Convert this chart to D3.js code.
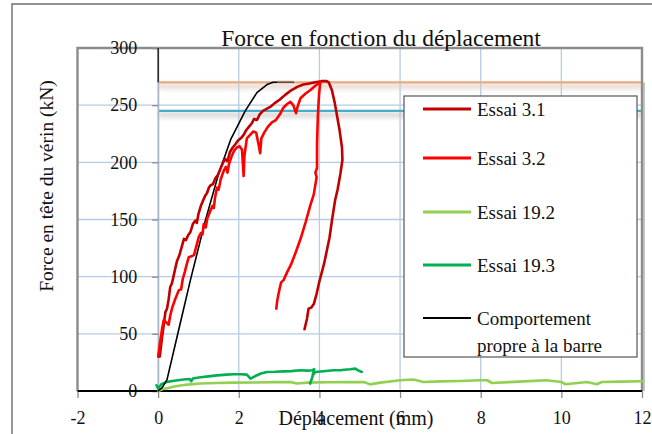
<!DOCTYPE html>
<html><head><meta charset="utf-8">
<script src="https://cdn.jsdelivr.net/npm/d3@7"></script>
<style>
html,body{margin:0;padding:0;background:#fff;}
svg text{font-family:"Liberation Serif","Times New Roman",serif;fill:#111;}
</style></head>
<body>
<svg id="c" width="652" height="434"></svg>
<script>
// ---- data ----
const xTicks = [-2, 0, 2, 4, 6, 8, 10, 12];
const yTicks = [0, 50, 100, 150, 200, 250, 300];
const legendLabels = ["Essai 3.1", "Essai 3.2", "Essai 19.2", "Essai 19.3", "Comportement|propre à la barre"];
const seriesColors = ["#c00000", "#ff0000", "#92d050", "#00b050", "#000000"];
const refForceMax = 270;   // orange reference line
const refForceYield = 245; // blue reference line

const essai31 = [[0.04,30],[0.09,45],[0.14,58],[0.18,69],[0.22,72],[0.26,80],[0.30,91],[0.34,94],[0.38,100],[0.43,108],[0.47,114],[0.52,118],[0.57,124],[0.64,133],[0.69,132],[0.74,136],[0.80,139],[0.86,146],[0.92,149],[0.96,147],[1.00,155],[1.06,162],[1.12,167],[1.17,171],[1.21,173],[1.26,178],[1.30,180],[1.36,181],[1.42,186],[1.48,189],[1.54,194],[1.60,199],[1.66,203],[1.72,201],[1.78,209],[1.85,213],[1.92,216],[1.98,219],[2.05,221],[2.12,224],[2.18,228],[2.25,231],[2.32,234],[2.38,238],[2.45,237],[2.52,242],[2.60,245],[2.70,247],[2.80,249],[2.90,252],[3.02,255],[3.15,259],[3.30,263],[3.45,266],[3.60,268],[3.75,269],[3.90,270],[4.05,271],[4.18,271],[4.23,270],[4.31,263],[4.38,252],[4.43,242],[4.50,228],[4.56,213],[4.57,202],[4.52,190],[4.45,176],[4.39,167],[4.31,149],[4.25,134],[4.19,124],[4.12,112],[4.06,104],[4.00,96],[3.93,85],[3.86,76],[3.80,73],[3.73,72],[3.69,63],[3.63,54]];
const essai32 = [[0.00,30],[0.05,43],[0.10,55],[0.14,62],[0.20,60],[0.26,58],[0.30,66],[0.35,73],[0.42,80],[0.51,88],[0.57,89],[0.61,98],[0.66,104],[0.71,111],[0.76,117],[0.84,118],[0.89,119],[0.95,127],[1.01,135],[1.06,138],[1.10,137],[1.13,146],[1.18,143],[1.22,151],[1.30,158],[1.35,162],[1.38,160],[1.41,169],[1.46,178],[1.50,176],[1.55,185],[1.63,193],[1.68,196],[1.72,191],[1.76,199],[1.82,205],[1.88,210],[1.95,213],[2.02,214],[2.08,211],[2.12,188],[2.14,206],[2.20,221],[2.28,224],[2.36,227],[2.43,226],[2.50,214],[2.53,208],[2.56,221],[2.63,226],[2.72,231],[2.82,235],[2.92,237],[3.02,242],[3.11,248],[3.20,251],[3.28,253],[3.35,250],[3.42,243],[3.46,249],[3.53,256],[3.65,260],[3.77,263],[3.90,267],[4.02,270],[3.99,259],[3.96,240],[3.94,215],[3.94,195],[3.90,191],[3.93,187],[3.86,172],[3.77,162],[3.66,148],[3.54,134],[3.42,122],[3.30,111],[3.20,104],[3.11,97],[3.05,95],[3.01,89],[2.98,84],[2.95,78],[2.93,72]];
const essai192 = [[0.00,0],[0.10,1.5],[0.22,2.5],[0.40,4],[0.63,5.2],[0.85,6],[1.05,6.5],[1.45,7],[1.87,7.3],[2.40,7.5],[2.90,7.8],[3.28,7.9],[3.44,6.5],[3.70,7.3],[4.20,7.6],[4.70,7.8],[5.10,7.9],[5.26,5.8],[5.51,7.3],[5.80,8.6],[6.00,9.4],[6.33,10],[6.58,7.9],[7.00,8.4],[7.50,8.8],[7.99,9.4],[8.16,9.4],[8.28,7.0],[8.70,7.8],[9.20,8.6],[9.64,9.4],[10.00,7.9],[10.10,5.9],[10.40,7.0],[10.63,7.9],[10.88,5.9],[11.00,7.9],[11.50,8.2],[12.00,8.5]];
const essai193 = [[-0.04,5],[0.00,2],[0.08,6],[0.22,8],[0.40,9],[0.63,10],[0.78,10.5],[0.82,8.5],[0.86,11],[1.05,12],[1.25,12.8],[1.46,13.7],[1.70,14.3],[1.87,14.6],[2.05,14.7],[2.20,14.3],[2.29,10.8],[2.41,13.1],[2.55,15.3],[2.70,16.6],[2.90,16.8],[3.11,17.2],[3.30,17.4],[3.53,18.1],[3.70,17.8],[3.82,18.1],[3.87,19],[3.82,12],[3.77,6.5],[3.84,14],[3.90,16.6],[4.10,17.3],[4.35,18.1],[4.55,18.3],[4.76,19],[4.89,19.6],[4.96,18],[5.05,16.6]];
const comportement = [[0,0],[0.10,3],[0.22,10],[0.50,52],[0.80,97],[1.17,149],[1.50,190],[1.80,220],[2.16,245],[2.45,261],[2.70,268],[2.85,270],[3.35,270]];
const allSeries = [essai31, essai32, essai192, essai193, comportement];
const seriesWidths = [2.6, 2.6, 2.6, 2.6, 1.6];

// ---- drawing ----
const svg = d3.select("#c");
const W = 652, H = 434;
const pLeft = 77.5, pRight = 642, pTop = 48, pBottom = 391;
const x = d3.scaleLinear().domain([-2, 12]).range([pLeft, pRight]);
const y = d3.scaleLinear().domain([0, 300]).range([pBottom, pTop]);
const fmt = d => String(d);

const defs = svg.append("defs");
const blur = defs.append("filter").attr("id","blur").attr("x","-5%").attr("y","-200%").attr("width","110%").attr("height","500%");
blur.append("feGaussianBlur").attr("stdDeviation","2.2");

// outer frame
svg.append("path").attr("d", `M12,${H} L12,4 L${W},4`).attr("fill","none").attr("stroke","#6e6e6e").attr("stroke-width",1.4);

// gridlines
const grid = svg.append("g");
grid.selectAll(".hg").data(yTicks.filter(d => d > 0 && d < 300)).join("line")
  .attr("x1", pLeft).attr("x2", pRight).attr("y1", d => y(d)).attr("y2", d => y(d))
  .attr("stroke", "#b8cbe6").attr("stroke-width", 1.3);
grid.selectAll(".vg").data(xTicks.filter(d => d > -2 && d < 12)).join("line")
  .attr("x1", d => x(d)).attr("x2", d => x(d)).attr("y1", pTop).attr("y2", pBottom)
  .attr("stroke", d => d === 0 ? "#a9b4c4" : "#b8cbe6").attr("stroke-width", 1.3);

// reference lines with soft shadows
const refs = svg.append("g");
[[refForceMax, "#e6ac7e", "#d9c2b8"], [refForceYield, "#4bacc6", "#bfbfbf"]].forEach(([v, col, sh]) => {
  refs.append("rect").attr("x", x(0)).attr("width", pRight - x(0)).attr("y", y(v) + 1).attr("height", 6)
    .attr("fill", sh).attr("opacity", 0.55).attr("filter", "url(#blur)");
  refs.append("line").attr("x1", x(0)).attr("x2", pRight).attr("y1", y(v)).attr("y2", y(v))
    .attr("stroke", col).attr("stroke-width", 2.2);
});

// plot border (left, top, right)
svg.append("path").attr("d", `M${pLeft},${pBottom} L${pLeft},${pTop} L${pRight},${pTop} L${pRight},${pBottom}`)
  .attr("fill","none").attr("stroke","#8c8c8c").attr("stroke-width",2.4);
svg.append("line").attr("x1", pRight + 2).attr("x2", pRight + 2).attr("y1", y(refForceMax)).attr("y2", pBottom)
  .attr("stroke","#b0b0b0").attr("stroke-width",1.5);

// y axis at x = 0
const yAxis = svg.append("g").attr("transform", `translate(${x(0)},0)`)
  .call(d3.axisLeft(y).tickValues(yTicks).tickSize(6).tickPadding(15).tickFormat(fmt));
yAxis.select(".domain").attr("stroke","#a9b4c4").attr("stroke-width",1.3);
yAxis.selectAll(".tick line").attr("stroke","#8c8c8c").attr("stroke-width",1.3);
yAxis.selectAll(".tick text").attr("font-size", 18).attr("font-family", "Liberation Serif").attr("fill","#111");
svg.append("line").attr("x1", x(0)).attr("x2", x(0)).attr("y1", y(300)).attr("y2", y(refForceMax))
  .attr("stroke","#000").attr("stroke-width",1.2);

// x axis at y = 0
const xAxis = svg.append("g").attr("transform", `translate(0,${y(0)})`)
  .call(d3.axisBottom(x).tickValues(xTicks).tickSize(7).tickPadding(13).tickFormat(fmt));
xAxis.select(".domain").remove();
xAxis.selectAll(".tick line").attr("stroke","#8c8c8c").attr("stroke-width",1.3);
xAxis.selectAll(".tick text").attr("font-size", 18).attr("font-family", "Liberation Serif").attr("fill","#111");
svg.append("line").attr("x1", pLeft).attr("x2", pRight).attr("y1", y(0)).attr("y2", y(0))
  .attr("stroke","#000").attr("stroke-width",2);

// series
const line = d3.line().x(d => x(d[0])).y(d => y(d[1])).curve(d3.curveLinear);
const order = [2, 3, 4, 0, 1];
const sg = svg.append("g");
order.forEach(i => {
  sg.append("path").datum(allSeries[i]).attr("d", line).attr("fill","none")
    .attr("stroke", seriesColors[i]).attr("stroke-width", seriesWidths[i])
    .attr("stroke-linejoin","round").attr("stroke-linecap","round");
});
// brownish flat top of the bar behaviour
sg.append("line").attr("x1", x(2.95)).attr("x2", x(3.35)).attr("y1", y(270.5)).attr("y2", y(270.5))
  .attr("stroke","#a0806a").attr("stroke-width",1.8);

// title & axis labels
svg.append("text").attr("x", 381).attr("y", 46).attr("text-anchor","middle").attr("font-size", 23.5)
  .text("Force en fonction du déplacement");
svg.append("text").attr("transform", "translate(53,186) rotate(-90)").attr("text-anchor","middle")
  .attr("font-size", 19.5).text("Force en tête du vérin (kN)");
svg.append("text").attr("x", 356).attr("y", 425).attr("text-anchor","middle").attr("font-size", 20)
  .text("Déplacement (mm)");

// legend
const lg = svg.append("g");
lg.append("rect").attr("x", 404).attr("y", 96).attr("width", 233).attr("height", 261)
  .attr("fill","#fff").attr("stroke","#555").attr("stroke-width",1.2);
const legY = [109, 158, 212, 265, 318];
legendLabels.forEach((lab, i) => {
  lg.append("line").attr("x1", 423).attr("x2", 471).attr("y1", legY[i]).attr("y2", legY[i])
    .attr("stroke", seriesColors[i]).attr("stroke-width", i === 4 ? 1.8 : 3);
  const parts = lab.split("|");
  parts.forEach((p, j) => {
    lg.append("text").attr("x", 477).attr("y", legY[i] + 6.5 + j * 27).attr("font-size", 19).text(p);
  });
});
</script>
</body></html>
